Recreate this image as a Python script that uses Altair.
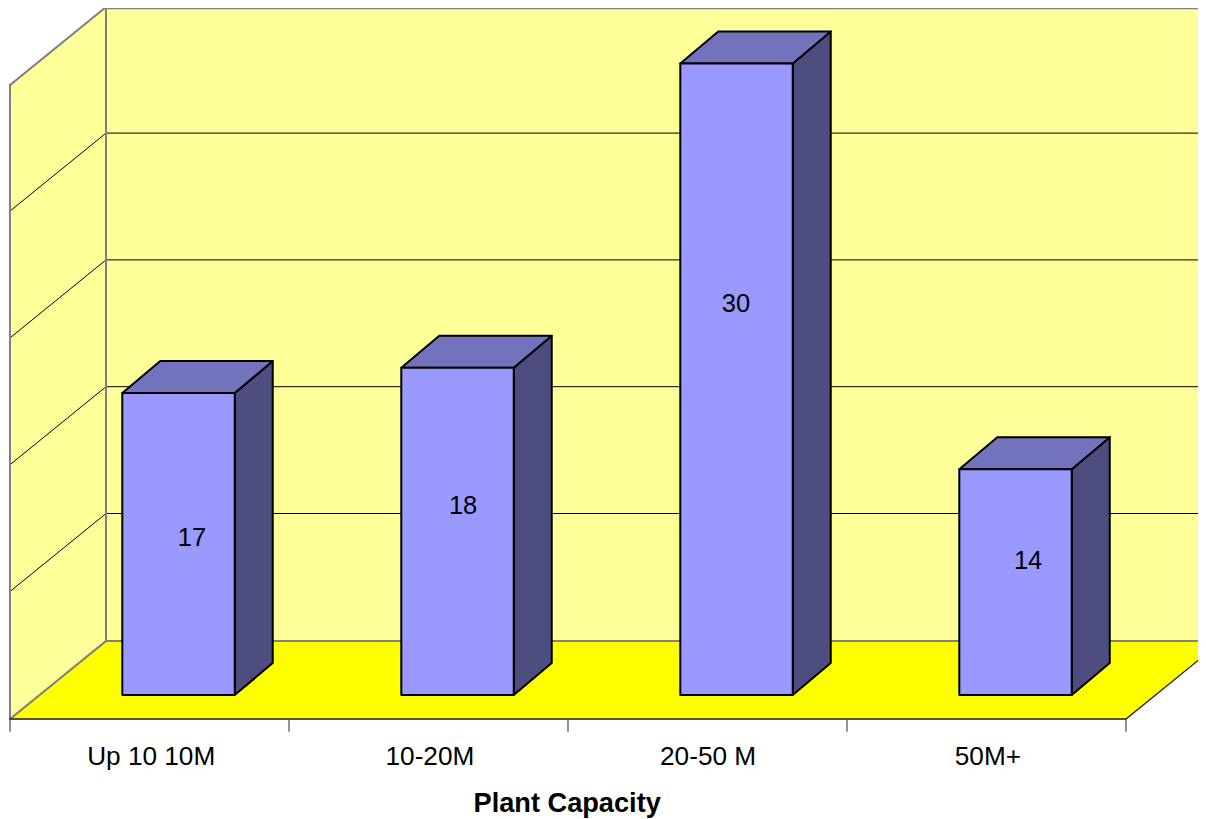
import altair as alt
import pandas as pd

# Chart values
categories = ["Up 10 10M", "10-20M", "20-50 M", "50M+"]
values = [17, 18, 30, 14]
grid_values = [10, 15, 20, 25]
axis_min, axis_max = 5, 30

# Layout of the pseudo-3D box, in axis units (categories on x, value on y)
CAT_PX, VAL_PX = 279.0, 25.36
X0_PX, Y5_PX = 10.0, 641.0
W_PX, H_PX = 1190, 811
x_domain = [(8 - X0_PX) / CAT_PX, (8 + W_PX - X0_PX) / CAT_PX]
y_domain = [axis_min + (Y5_PX - 8 - H_PX) / VAL_PX, axis_min + (Y5_PX - 8) / VAL_PX]
wall_du, wall_dv = 96 / CAT_PX, 78 / VAL_PX
bar_du, bar_dv = 38 / CAT_PX, 32 / VAL_PX
bar_center, bar_width = 0.604, 0.403
bar_base = axis_min - 54 / VAL_PX
bar_shift = 56.4 / VAL_PX
grid_shift = 0.7 / VAL_PX
top_line_shift = 1.2 / VAL_PX
n = len(categories)
label_u = [0.652, 1.624, 2.602, 3.649]
label_v = [9.06, 10.32, 18.29, 8.15]
tick_label_u = [0.506, 1.505, 2.502, 3.505]
tick_label_v = 5 - 115.5 / VAL_PX
title_u, title_v = 1.997, 5 - 163 / VAL_PX
tick_end_v = 5 - 90 / VAL_PX
right_u = n + wall_du

X = dict(scale=alt.Scale(domain=x_domain, nice=False, zero=False), axis=None)
Y = dict(scale=alt.Scale(domain=y_domain, nice=False, zero=False), axis=None)


def area(rows, **mark):
    return alt.Chart(pd.DataFrame(rows, columns=["x", "y", "y2"])).mark_area(clip=True, opacity=1, **mark).encode(
        x=alt.X("x:Q", **X), y=alt.Y("y:Q", **Y), y2=alt.Y2("y2:Q"))


def top_face(rows, **mark):
    return alt.Chart(pd.DataFrame(rows, columns=["y", "x", "x2"])).mark_area(orient="horizontal", clip=True, opacity=1, **mark).encode(
        y=alt.Y("y:Q", **Y), x=alt.X("x:Q", **X), x2=alt.X2("x2:Q"))


def lines(rows, color, width):
    return alt.Chart(pd.DataFrame(rows, columns=["g", "i", "x", "y"])).mark_line(
        clip=True, color=color, strokeWidth=width, strokeCap="square").encode(
        x=alt.X("x:Q", **X), y=alt.Y("y:Q", **Y), detail="g:N", order="i:Q")


def seg(g, a, b):
    return [(g, 0, a[0], a[1]), (g, 1, b[0], b[1])]


def text(us, vs, labels, size, weight="normal"):
    df = pd.DataFrame({"x": us, "y": vs, "t": labels})
    return alt.Chart(df).mark_text(
        font="Liberation Sans", fontSize=size, fontWeight=weight, color="#000000",
        align="center", baseline="middle").encode(
        x=alt.X("x:Q", **X), y=alt.Y("y:Q", **Y), text="t:N")


layers = []
# Walls and floor
layers.append(area([(0, axis_max - wall_dv, axis_min - wall_dv),
                    (wall_du, axis_max, axis_min)], fill="#FFFF99"))
layers.append(area([(wall_du, axis_max, axis_min), (right_u, axis_max, axis_min)], fill="#FFFF99"))
layers.append(area([(0, axis_min - wall_dv, axis_min - wall_dv),
                    (wall_du, axis_min, axis_min - wall_dv),
                    (n, axis_min, axis_min - wall_dv),
                    (right_u, axis_min, axis_min)], fill="#FFFF00"))

# Gridlines on both walls
grid_rows = []
for k, g in enumerate(grid_values):
    gv = g + grid_shift
    grid_rows += [(k, 0, 0, gv - wall_dv), (k, 1, wall_du, gv), (k, 2, right_u, gv)]
layers.append(lines(grid_rows, "#000000", 1))

# Wall borders
top_line = axis_max - top_line_shift
gray_rows = (seg("a", (0, axis_min - wall_dv), (0, axis_max - wall_dv))
             + seg("b", (0, axis_max - wall_dv), (wall_du, axis_max))
             + seg("c", (wall_du, top_line), (right_u, top_line))
             + seg("d", (wall_du, axis_max), (wall_du, axis_min))
             + seg("e", (wall_du, axis_min), (right_u, axis_min))
             + seg("f", (0, axis_min - wall_dv), (wall_du, axis_min)))
layers.append(lines(gray_rows, "#808080", 2))

# Floor front and right edges
layers.append(lines(seg("h", (0, axis_min - wall_dv), (n, axis_min - wall_dv))
                    + seg("i", (n, axis_min - wall_dv), (right_u, axis_min)), "#1a1a00", 1.3))

# Axis ticks
tick_rows = []
for i in range(n + 1):
    tick_rows += seg(f"t{i}", (i, axis_min - wall_dv), (i, tick_end_v))
layers.append(lines(tick_rows, "#555555", 1.3))

# Bars
for i, value in enumerate(values):
    left = i + bar_center - bar_width / 2
    right = i + bar_center + bar_width / 2
    top = value - bar_shift
    stroke = dict(stroke="#000000", strokeWidth=2, strokeJoin="round")
    layers.append(area([(right, top, bar_base), (right + bar_du, top + bar_dv, bar_base + bar_dv)],
                       fill="#4D4D80", **stroke))
    layers.append(top_face([(top, left, right), (top + bar_dv, left + bar_du, right + bar_du)],
                           fill="#7373BD", **stroke))
    layers.append(area([(left, top, bar_base), (right, top, bar_base)], fill="#9999FF", **stroke))

# Text
layers.append(text(label_u, label_v, [str(v) for v in values], 25.5))
layers.append(text(tick_label_u, [tick_label_v] * n, categories, 26.2))
layers.append(text([title_u], [title_v], ["Plant Capacity"], 27.2, "bold"))

chart = alt.layer(*layers).properties(
    width=W_PX, height=H_PX, padding=0,
    autosize=alt.AutoSizeParams(type="none"),
    background="#FFFFFF",
).configure_view(stroke=None)

chart.save("out.html", embed_options={"renderer": "svg", "actions": False})
